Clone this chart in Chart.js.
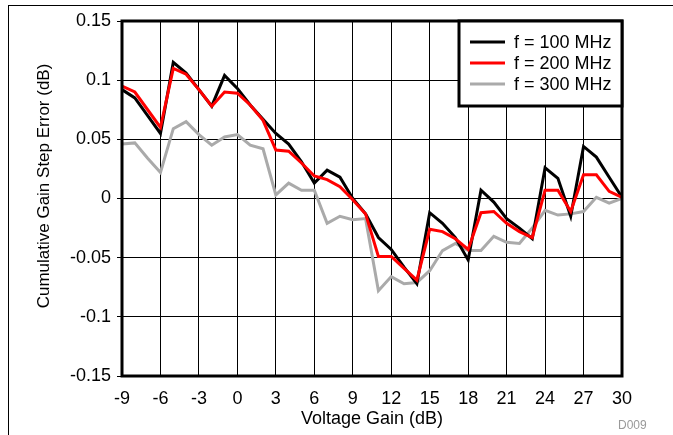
<!DOCTYPE html>
<html>
<head>
<meta charset="utf-8">
<script src="https://cdn.jsdelivr.net/npm/chart.js@4/dist/chart.umd.min.js"></script>
<style>
    html, body { margin: 0; padding: 0; background: #fff; }
    #wrap { position: relative; width: 673px; height: 435px; overflow: hidden; }
    #frame { position: absolute; left: 8px; top: 5px; width: 700px; height: 500px; border-left: 1px solid #000; border-top: 1px solid #000; pointer-events: none; }
</style>
</head>
<body>
<div id="wrap"><canvas id="chart" width="673" height="435"></canvas><div id="frame"></div></div>
<script>
(function () {
    "use strict";

    const gainDb = [-9, -8, -7, -6, -5, -4, -3, -2, -1, 0, 1, 2, 3, 4, 5, 6, 7, 8, 9, 10,
        11, 12, 13, 14, 15, 16, 17, 18, 19, 20, 21, 22, 23, 24, 25, 26, 27, 28, 29, 30];
    const f100 = [0.092, 0.085, 0.070, 0.055, 0.115, 0.106, 0.092, 0.078, 0.104, 0.093,
        0.079, 0.067, 0.055, 0.046, 0.031, 0.013, 0.024, 0.018, 0.000, -0.013,
        -0.033, -0.043, -0.058, -0.072, -0.012, -0.021, -0.033, -0.052, 0.007, -0.003,
        -0.017, -0.025, -0.034, 0.026, 0.017, -0.015, 0.044, 0.035, 0.018, 0.001];
    const f200 = [0.095, 0.090, 0.075, 0.060, 0.110, 0.105, 0.092, 0.078, 0.090, 0.089,
        0.079, 0.066, 0.041, 0.040, 0.030, 0.019, 0.016, 0.010, -0.001, -0.013,
        -0.049, -0.049, -0.059, -0.069, -0.026, -0.028, -0.034, -0.043, -0.012, -0.011,
        -0.021, -0.028, -0.033, 0.007, 0.007, -0.011, 0.020, 0.020, 0.006, 0.001];
    const f300 = [0.046, 0.047, 0.034, 0.022, 0.059, 0.065, 0.054, 0.045, 0.052, 0.054,
        0.045, 0.042, 0.003, 0.013, 0.007, 0.007, -0.021, -0.015, -0.018, -0.017,
        -0.078, -0.066, -0.072, -0.071, -0.061, -0.044, -0.038, -0.044, -0.044, -0.032,
        -0.037, -0.038, -0.025, -0.010, -0.014, -0.013, -0.011, 0.001, -0.004, 0.000];
    const seriesNames = ["f = 100 MHz", "f = 200 MHz", "f = 300 MHz"];
    const seriesColors = ["#000000", "#ff0000", "#aaaaaa"];
    const xTicks = [-9, -6, -3, 0, 3, 6, 9, 12, 15, 18, 21, 24, 27, 30];
    const yTicks = [-0.15, -0.1, -0.05, 0, 0.05, 0.1, 0.15];

    const FONT = "'Liberation Sans', Arial, sans-serif";
    Chart.defaults.font.family = FONT;
    Chart.defaults.font.size = 18;
    Chart.defaults.color = "#000";

    const toPoints = (ys) => ys.map((y, i) => ({ x: gainDb[i], y }));

    // plot frame, legend box, y title, figure tag
    const extras = {
        id: "extras",
        afterDatasetsDraw(chart) {
            const { ctx, chartArea: a } = chart;
            ctx.save();
            ctx.strokeStyle = "#000";
            ctx.lineWidth = 3;
            ctx.strokeRect(a.left, a.top, a.right - a.left, a.bottom - a.top);

            const bx = 459, by = a.top, bw = a.right - bx, bh = 85;
            ctx.fillStyle = "#fff";
            ctx.fillRect(bx, by, bw, bh);
            ctx.strokeRect(bx, by, bw, bh);
            ctx.font = "18px " + FONT;
            ctx.textBaseline = "middle";
            chart.data.datasets.forEach((ds, i) => {
                const y = by + 21 + i * 21;
                ctx.strokeStyle = ds.borderColor;
                ctx.lineWidth = 3;
                ctx.beginPath();
                ctx.moveTo(bx + 11, y);
                ctx.lineTo(bx + 46, y);
                ctx.stroke();
                ctx.fillStyle = "#000";
                ctx.fillText(ds.label, bx + 55, y + 1);
            });

            ctx.translate(44, 186);
            ctx.rotate(-Math.PI / 2);
            ctx.textAlign = "center";
            ctx.font = "17px " + FONT;
            ctx.fillText("Cumulative Gain Step Error (dB)", 0, 0);
            ctx.restore();

            ctx.save();
            ctx.fillStyle = "#999";
            ctx.font = "12px " + FONT;
            ctx.textBaseline = "middle";
            ctx.fillText("D009", 618, 426);
            ctx.restore();
        },
    };

    new Chart(document.getElementById("chart"), {
        type: "line",
        data: {
            datasets: [
                { label: seriesNames[0], data: toPoints(f100), borderColor: seriesColors[0], order: 1 },
                { label: seriesNames[1], data: toPoints(f200), borderColor: seriesColors[1], order: 0 },
                { label: seriesNames[2], data: toPoints(f300), borderColor: seriesColors[2], order: 2 },
            ],
        },
        options: {
            responsive: false,
            animation: false,
            events: [],
            layout: { padding: { left: 0, top: 21, right: 51, bottom: 0 } },
            elements: { line: { borderWidth: 3, tension: 0 }, point: { radius: 0 } },
            plugins: { legend: { display: false }, tooltip: { enabled: false } },
            scales: {
                x: {
                    type: "linear", min: -9, max: 30,
                    afterBuildTicks: (s) => { s.ticks = xTicks.map((v) => ({ value: v })); },
                    afterFit: (s) => { s.height = 59; },
                    ticks: { padding: 12, callback: (v) => String(v) },
                    grid: { color: "#000", lineWidth: 1, drawTicks: false },
                    border: { display: false },
                    title: { display: true, text: "Voltage Gain (dB)", padding: { top: 0, bottom: 5 } },
                },
                y: {
                    min: -0.15, max: 0.15,
                    afterBuildTicks: (s) => { s.ticks = yTicks.map((v) => ({ value: v })); },
                    afterFit: (s) => { s.width = 122; },
                    ticks: { padding: 6, callback: (v) => String(Math.round(v * 100) / 100) },
                    grid: { color: "#000", lineWidth: 1, tickLength: 5 },
                    border: { display: false },
                },
            },
        },
        plugins: [extras],
    });
})();
</script>
</body>
</html>
